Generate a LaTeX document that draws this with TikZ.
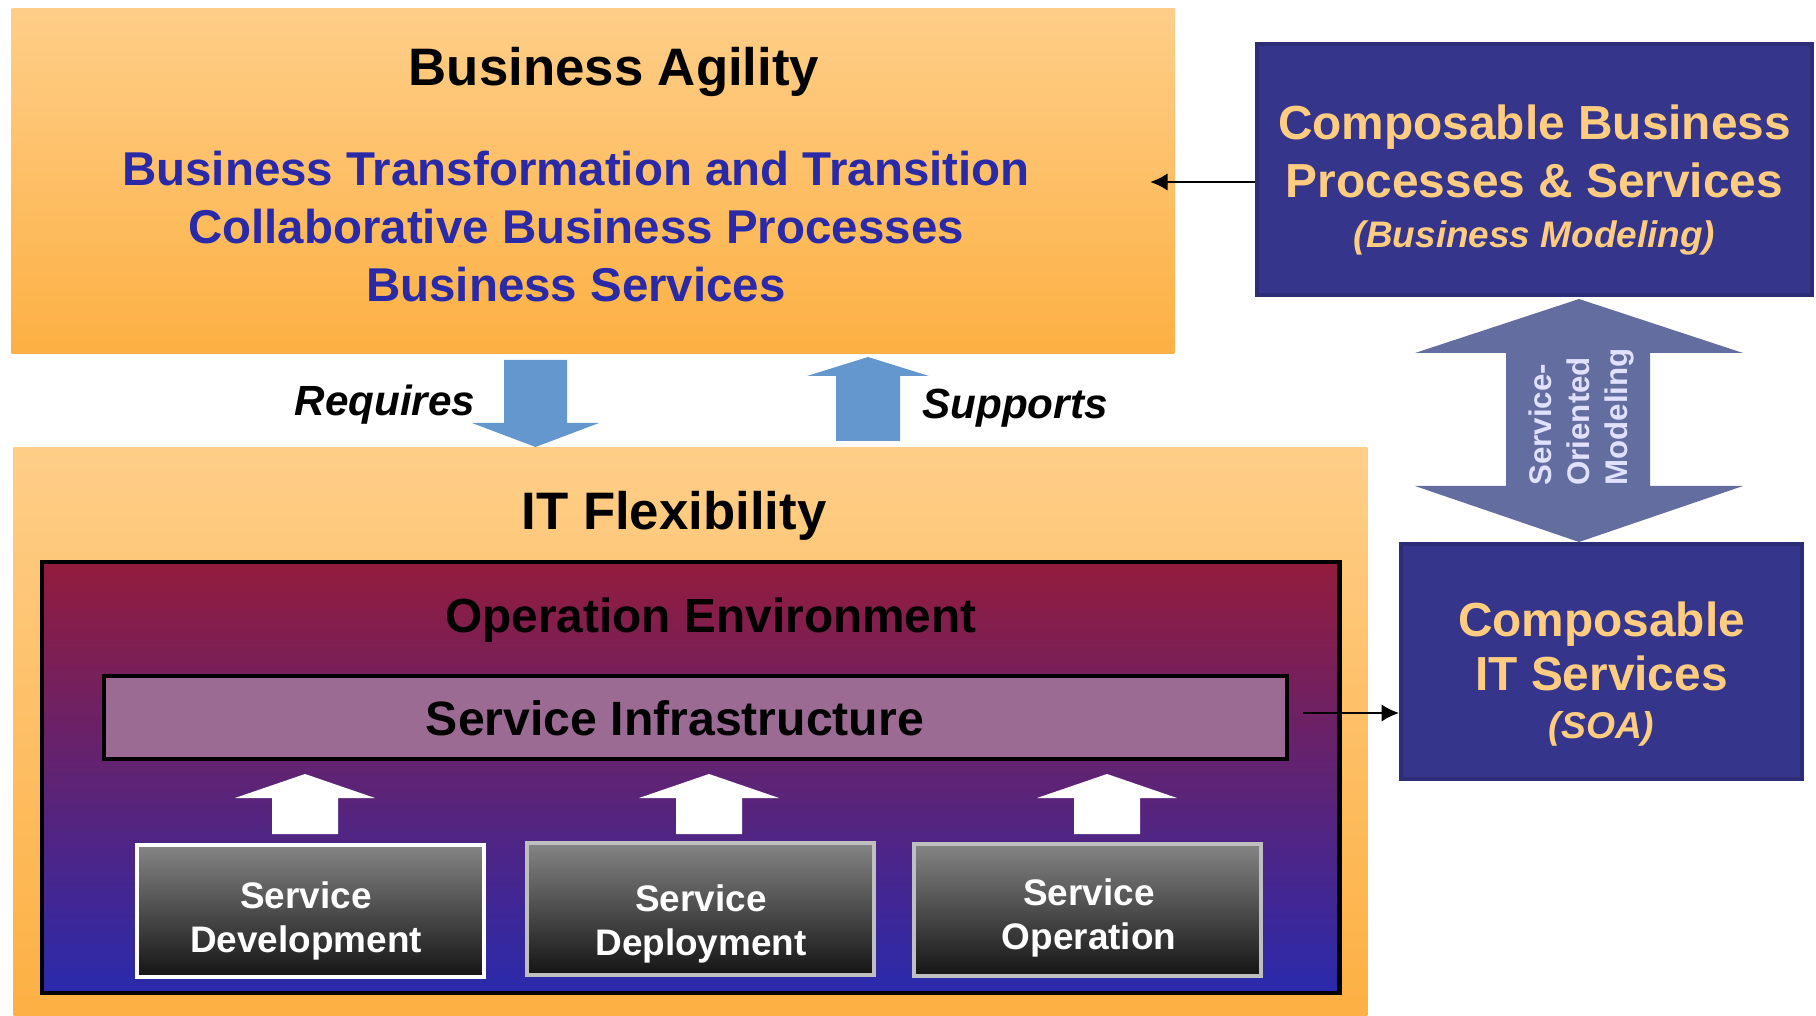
\documentclass[tikz,border=0pt]{standalone}
\usepackage{fontspec}
\setmainfont{Liberation Sans}
\usetikzlibrary{arrows.meta}

\definecolor{peach}{HTML}{FFCC80}
\definecolor{navy}{HTML}{35358C}
\definecolor{bluetxt}{HTML}{2A2AA8}
\definecolor{orangetop}{HTML}{FECE88}
\definecolor{orangebot}{HTML}{FDB043}
\definecolor{arrowblue}{HTML}{6497CD}
\definecolor{modelblue}{HTML}{646D9F}
\definecolor{envtop}{HTML}{931C3C}
\definecolor{envmid}{HTML}{762078}
\definecolor{envbot}{HTML}{2A2AAC}
\definecolor{infra}{HTML}{9C6B93}

\begin{document}
\begin{tikzpicture}[x=0.01cm,y=-0.01cm,
    panel/.style={inner sep=0pt,outer sep=0pt,top color=orangetop,bottom color=orangebot},
    navybox/.style={fill=navy,draw=navy!85!black,line width=1pt,inner sep=0pt},
    navytxt/.style={text=peach,align=center,font=\bfseries\fontsize{13.6pt}{16.5pt}\selectfont},
    greybox/.style={top color=black!48,bottom color=black!92,line width=1.2pt,inner sep=0pt,
      minimum width=3.47cm,minimum height=1.32cm},
    greytxt/.style={text=white,align=center,font=\bfseries\fontsize{10.5pt}{12.5pt}\selectfont},
    title/.style={font=\bfseries\fontsize{15pt}{18pt}\selectfont},
    conn/.style={-{Latex[length=5pt,width=5pt]},line width=0.8pt}]
    \useasboundingbox (0,0) rectangle (1816,1016);

    % the two orange panels
    \node[panel,minimum width=11.62cm,minimum height=3.44cm] (agility) at (593,181) {};
    \node[panel,minimum width=13.53cm,minimum height=5.68cm] (flex) at (690.5,732) {};

    % operation environment and infrastructure
    \node[draw,line width=1.2pt,inner sep=0pt,minimum width=12.97cm,minimum height=4.31cm,
      top color=envtop,middle color=envmid,bottom color=envbot] (openv) at (690.5,777.5) {};
    \node[draw,line width=1.2pt,inner sep=0pt,minimum width=11.83cm,minimum height=0.83cm,
      fill=infra] (infra) at (695.5,717.5) {};

    % right hand boxes
    \node[navybox,minimum width=5.55cm,minimum height=2.51cm] (bizsvc) at (1534.5,169.5) {};
    \node[navybox,minimum width=4.01cm,minimum height=2.35cm] (itsvc) at (1601.5,661.5) {};
    \node[navytxt] (bizsvctxt) at (1534.5,180)
      {Composable Business\\Processes \& Services\\[-2.5pt]{\itshape\fontsize{10.5pt}{12pt}\selectfont (Business Modeling)}};
    \node[navytxt,font=\bfseries\fontsize{13.6pt}{15.6pt}\selectfont] (itsvctxt) at (1601.5,674)
      {Composable\\IT Services\\[-2pt]{\itshape\fontsize{10.6pt}{12pt}\selectfont (SOA)}};

    % bottom boxes
    \node[greybox,draw=white] (dev) at (310.5,911) {};
    \node[greybox,draw=black!25] (deploy) at (700.5,909) {};
    \node[greybox,draw=black!25] (oper) at (1087.5,910) {};
    \node[greytxt] (devtxt) at (306,921) {Service\\Development};
    \node[greytxt] (deploytxt) at (701,924) {Service\\Deployment};
    \node[greytxt] (opertxt) at (1089,918) {Service\\Operation};

    % block arrows
    \fill[arrowblue] (504,360) -- (567,360) -- (567,423) -- (599,423) -- (535.5,447) -- (472,423) -- (504,423) -- cycle; %requires
    \fill[arrowblue] (836,441) -- (900,441) -- (900,376) -- (929,376) -- (868,357) -- (807,376) -- (836,376) -- cycle; %supports
    \fill[modelblue] (1579,299) -- (1743,353) -- (1650,353) -- (1650,486) -- (1743,486) -- (1579,542)
      -- (1415,486) -- (1506,486) -- (1506,353) -- (1415,353) -- cycle;
    \foreach \c in {305,709,1107}
      \fill[white] ({\c-33},834) -- ({\c-33},798) -- ({\c-70},798) -- (\c,774) -- ({\c+70},798) -- ({\c+33},798) -- ({\c+33},834) -- cycle;

    % texts
    \node[title] (agilitytxt) at (614,72) {Business Agility};
    \node[text=bluetxt,align=center,font=\bfseries\fontsize{13.5pt}{16.5pt}\selectfont] (bizlist) at (576,227)
      {Business Transformation and Transition\\Collaborative Business Processes\\Business Services};
    \node[title] (flextxt) at (674,516) {IT Flexibility};
    \node[font=\bfseries\fontsize{13.6pt}{16pt}\selectfont] (openvtxt) at (711,620) {Operation Environment};
    \node[font=\bfseries\fontsize{13.7pt}{16pt}\selectfont] (infratxt) at (675,718) {Service Infrastructure};
    \node[font=\bfseries\itshape\fontsize{12pt}{14pt}\selectfont] (req) at (385,405) {Requires};
    \node[font=\bfseries\itshape\fontsize{12pt}{14pt}\selectfont] (sup) at (1015,408) {Supports};
    \node[rotate=90,align=left,text=white!88!blue,font=\bfseries\fontsize{8.9pt}{10.8pt}\selectfont] (somtxt) at (1581,417)
      {Service-\\Oriented\\Modeling};

    % connectors
    \coordinate (bizin) at (1150,182);
    \coordinate (infraout) at (1303,713);
    \draw[conn] (bizsvc.west |- bizin) -- (bizin);
    \draw[conn] (infraout) -- (infraout -| itsvc.west);
\end{tikzpicture}
\end{document}
